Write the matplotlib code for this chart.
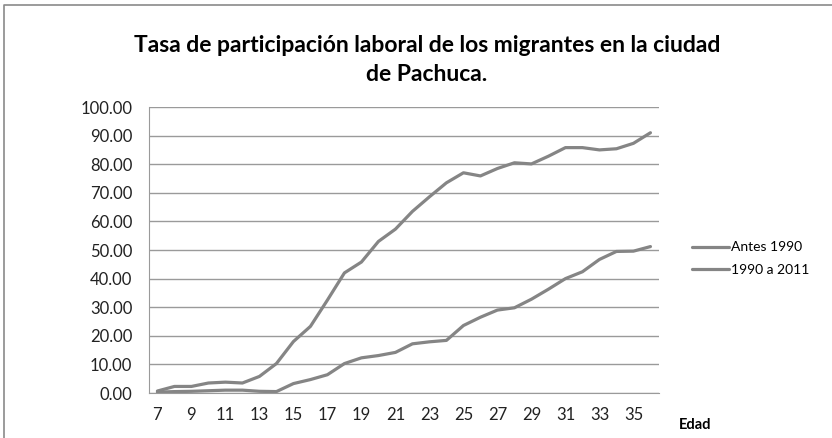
import matplotlib.pyplot as plt
from matplotlib.lines import Line2D

edad = list(range(7, 37))
antes_1990 = [0.7, 2.3, 2.3, 3.5, 3.8, 3.5, 5.8, 10.3, 18.0, 23.3,
              32.5, 42.0, 45.8, 53.0, 57.3, 63.5, 68.6, 73.5, 77.0, 75.9,
              78.5, 80.5, 80.1, 82.8, 85.8, 85.8, 85.0, 85.4, 87.3, 91.0]
de_1990_a_2011 = [0.3, 0.5, 0.6, 0.8, 1.0, 1.0, 0.6, 0.5, 3.3, 4.7,
                  6.4, 10.3, 12.3, 13.1, 14.2, 17.2, 17.9, 18.4, 23.6, 26.5,
                  29.0, 29.8, 32.8, 36.3, 40.0, 42.4, 46.7, 49.5, 49.6, 51.2]
series = {"Antes 1990": antes_1990, "1990 a 2011": de_1990_a_2011}
xticks = list(range(7, 36, 2))
yticks = list(range(0, 101, 10))

plt.rcParams["font.family"] = ["Lato", "DejaVu Sans"]

fig = plt.figure(figsize=(8.32, 4.38), dpi=100)
ax = fig.add_axes([0.179, 0.1027, 0.613, 0.653])

for name, vals in series.items():
    ax.plot(edad, vals, color="#858585", lw=2.3, label=name, solid_capstyle="round")

ax.set_xlim(6.5, 36.5)
ax.set_ylim(0, 100)
ax.set_xticks(xticks)
ax.set_yticks(yticks)
ax.set_yticklabels([f"{v:.2f}" for v in yticks])
ax.tick_params(length=0, labelsize=12, colors="#222222", pad=12)
ax.tick_params(axis="x", pad=10)
ax.grid(axis="y", color="#9a9a9a", lw=1)
ax.set_axisbelow(True)
for side in ["top", "right"]:
    ax.spines[side].set_visible(False)
for side in ["left", "bottom"]:
    ax.spines[side].set_color("#9a9a9a")

ax.legend(loc="center left", bbox_to_anchor=(1.04, 0.47), frameon=False,
          fontsize=10, handlelength=2.7, handletextpad=0.1, labelspacing=0.75)

fig.text(0.513, 0.863, "Tasa de participación laboral de los migrantes en la ciudad\nde Pachuca.",
         ha="center", va="center", fontsize=16.5, fontweight="bold", linespacing=1.45)
fig.text(0.816, 0.03, "Edad", ha="left", va="center", fontsize=10.5, fontweight="bold")

# chart frame (top and left edges visible)
fig.add_artist(Line2D([0.005, 0.005, 1.0], [0.0, 0.989, 0.989], color="#8a8a8a", lw=1.2))

fig.savefig("out.png", dpi=100)
